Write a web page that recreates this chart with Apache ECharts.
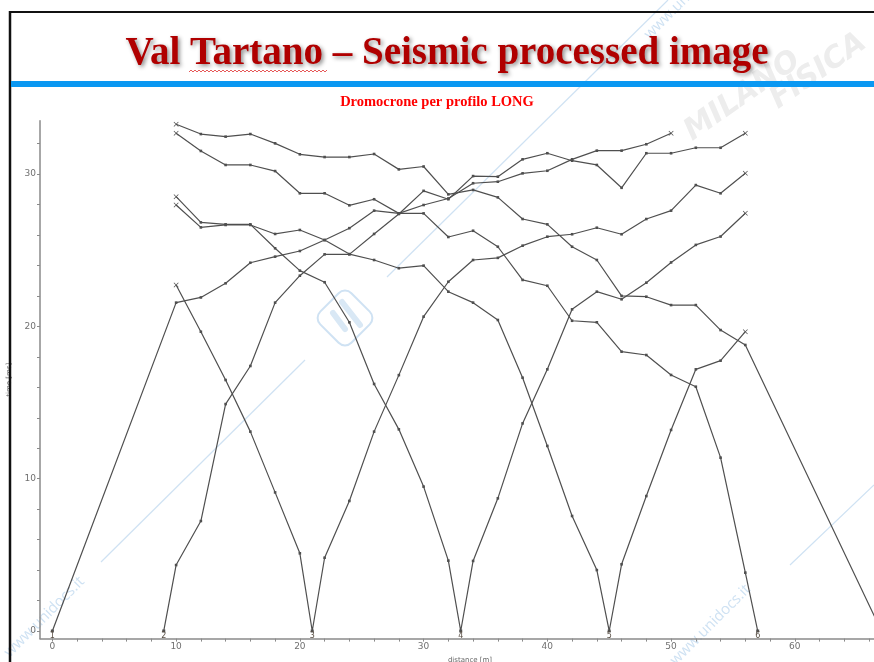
<!DOCTYPE html>
<html>
<head>
<meta charset="utf-8">
<script src="https://cdn.jsdelivr.net/npm/echarts@6/dist/echarts.min.js"></script>
<style>
  html, body { margin: 0; padding: 0; background: #ffffff; }
  #chart { width: 874px; height: 662px; }
</style>
</head>
<body>
<div id="chart"></div>
<script>
// Geophone spread (m) and shot positions (m) of the LONG profile
const geophones = [10, 12, 14, 16, 18, 20, 22, 24, 26, 28, 30, 32, 34, 36, 38, 40, 42, 44, 46, 48, 50, 52, 54, 56];
const shotPositions = [0, 9, 21, 33, 45, 57, 67];
const shotNames = ['1', '2', '3', '4', '5', '6', '7'];

// First-break picks (ms) for every shot, one value per geophone (null = not picked)
const times1 = [21.56, 21.9, 22.83, 24.18, 24.58, 24.95, 25.67, 26.45, 27.6, 27.42, 27.97, 28.4, 29.4, 29.5, 30.05, 30.22, 30.97, 31.54, 31.54, 31.96, 32.68, null, null, null];
const times2 = [4.33, 7.22, 14.9, 17.4, 21.56, 23.33, 24.73, 24.73, 26.07, 27.38, 28.9, 28.35, 29.87, 29.83, 30.97, 31.37, 30.88, 30.6, 29.1, 31.37, 31.37, 31.73, 31.73, 32.68];
const times3 = [22.72, 19.65, 16.48, 13.09, 9.1, 5.1, 4.81, 8.54, 13.09, 16.8, 20.64, 22.93, 24.36, 24.5, 25.3, 25.89, 26.05, 26.48, 26.05, 27.05, 27.6, 29.28, 28.74, 30.05];
const times4 = [28.52, 26.83, 26.7, 26.7, 25.13, 23.66, 22.9, 20.27, 16.22, 13.24, 9.48, 4.62, 4.6, 8.71, 13.63, 17.18, 21.12, 22.28, 21.78, 22.87, 24.2, 25.35, 25.9, 27.43];
const times5 = [27.97, 26.5, 26.66, 26.66, 26.07, 26.33, 25.67, 24.75, 24.36, 23.82, 23.99, 22.28, 21.56, 20.42, 16.63, 12.15, 7.55, 4.0, 4.38, 8.86, 13.2, 17.18, 17.75, 19.65];
const times6 = [32.68, 31.52, 30.6, 30.6, 30.2, 28.74, 28.74, 27.95, 28.35, 27.42, 27.42, 25.87, 26.28, 25.23, 23.05, 22.67, 20.37, 20.27, 18.34, 18.12, 16.81, 16.04, 11.38, 3.83];
const times7 = [33.27, 32.63, 32.46, 32.63, 32.02, 31.3, 31.12, 31.12, 31.32, 30.31, 30.5, 28.67, 28.96, 28.47, 27.05, 26.7, 25.23, 24.36, 22.0, 21.95, 21.4, 21.4, 19.76, 18.78];
const shotTimes = [times1, times2, times3, times4, times5, times6, times7];

// Axis ticks and labels
const xTickValues = [0, 2, 4, 6, 8, 10, 12, 14, 16, 18, 20, 22, 24, 26, 28, 30, 32, 34, 36, 38, 40, 42, 44, 46, 48, 50, 52, 54, 56, 58, 60, 62, 64, 66, 68];
const xLabelValues = [0, 10, 20, 30, 40, 50, 60];
const yTickValues = [0, 2, 4, 6, 8, 10, 12, 14, 16, 18, 20, 22, 24, 26, 28, 30, 32];
const yLabelValues = [0, 10, 20, 30];

const LINE = '#4f4f4f';
const AXIS = '#8a8a8a';
const CROSS = 'path://M1,0L5,4L9,0L10,1L6,5L10,9L9,10L5,6L1,10L0,9L4,5L0,1Z';

function buildShotSeries(i) {
  const times = shotTimes[i];
  const pts = [];
  geophones.forEach(function (g, k) {
    if (times[k] !== null) pts.push({ x: g, t: times[k], shot: false });
  });
  pts.push({ x: shotPositions[i], t: 0, shot: true });
  pts.sort(function (a, b) { return a.x - b.x; });
  const last = pts.length - 1;
  const data = pts.map(function (p, k) {
    const item = { value: [p.x, p.t] };
    if (p.shot) {
      item.symbol = 'rect';
      item.symbolSize = 3;
      item.label = {
        show: true, formatter: shotNames[i], position: 'bottom', distance: -1,
        fontSize: 8, color: '#5a5046', fontFamily: 'DejaVu Sans'
      };
    } else if (k === 0 || k === last) {
      item.symbol = CROSS;
      item.symbolSize = 5;
    } else {
      item.symbol = 'rect';
      item.symbolSize = 2.6;
    }
    return item;
  });
  return {
    type: 'line',
    name: 'Shot ' + shotNames[i],
    data: data,
    showAllSymbol: true,
    clip: false,
    lineStyle: { color: LINE, width: 1.2 },
    itemStyle: { color: LINE },
    emphasis: { disabled: true },
    silent: true,
    animation: false,
    z: 3
  };
}

const series = shotPositions.map(function (_, i) { return buildShotSeries(i); });

// Squiggly proof-reading underline under the place name
const squiggle = [];
for (let px = 189, n = 0; px <= 327; px += 2, n++) squiggle.push([px, n % 2 ? 70 : 72]);

const WM = '#cfe2f3';
const WM_GREY = '#ededed';
const TILT = 35 * Math.PI / 180;

const chart = echarts.init(document.getElementById('chart'), null, { renderer: 'canvas' });
chart.setOption({
  backgroundColor: '#ffffff',
  animation: false,
  grid: { left: 40, width: 860, top: 120.8, height: 517.8, containLabel: false, outerBoundsMode: 'none' },
  xAxis: {
    type: 'value', min: -1, max: 68.5,
    name: 'distance [m]', nameLocation: 'middle', nameGap: 14,
    nameTextStyle: { fontSize: 7, color: '#666', fontFamily: 'DejaVu Sans' },
    axisLine: { onZero: false, lineStyle: { color: AXIS, width: 1.5 } },
    axisTick: { show: true, customValues: xTickValues, length: 3, lineStyle: { color: AXIS, width: 1 } },
    axisLabel: { customValues: xLabelValues, fontSize: 9, color: '#707070', margin: 4, fontFamily: 'DejaVu Sans' },
    splitLine: { show: false }
  },
  yAxis: {
    type: 'value', min: -0.5, max: 33.5,
    name: 'time [ms]', nameLocation: 'middle', nameGap: 27, nameRotate: 90,
    nameTextStyle: { fontSize: 7, color: '#666', fontFamily: 'DejaVu Sans' },
    axisLine: { onZero: false, lineStyle: { color: AXIS, width: 1.5 } },
    axisTick: { show: true, customValues: yTickValues, length: 3, lineStyle: { color: AXIS, width: 1 } },
    axisLabel: { customValues: yLabelValues, fontSize: 9, color: '#707070', margin: 4, fontFamily: 'DejaVu Sans' },
    splitLine: { show: false }
  },
  graphic: [
    // faint grey background lettering, top right
    { type: 'text', silent: true, z: 0, x: 806, y: 70, rotation: TILT,
      style: { text: 'MILANO', fill: WM_GREY, font: 'italic bold 30px "DejaVu Sans"', textAlign: 'right', textVerticalAlign: 'bottom' } },
    { type: 'text', silent: true, z: 0, x: 872, y: 52, rotation: TILT,
      style: { text: 'FISICA', fill: WM_GREY, font: 'italic bold 30px "DejaVu Sans"', textAlign: 'right', textVerticalAlign: 'bottom' } },
    // faint diagonal watermark strokes
    { type: 'line', silent: true, z: 0, shape: { x1: 101, y1: 562, x2: 305, y2: 360 }, style: { stroke: WM, lineWidth: 1.2 } },
    { type: 'line', silent: true, z: 0, shape: { x1: 387, y1: 277, x2: 668, y2: 0 }, style: { stroke: WM, lineWidth: 1.2 } },
    { type: 'line', silent: true, z: 0, shape: { x1: 790, y1: 565, x2: 874, y2: 485 }, style: { stroke: WM, lineWidth: 1.2 } },
    { type: 'text', silent: true, z: 0, x: 12, y: 660, rotation: Math.PI / 4,
      style: { text: 'www.unidocs.it', fill: WM, font: '15px "Open Sans"', textAlign: 'left', textVerticalAlign: 'bottom' } },
    { type: 'text', silent: true, z: 0, x: 678, y: 668, rotation: Math.PI / 4,
      style: { text: 'www.unidocs.it', fill: WM, font: '15px "Open Sans"', textAlign: 'left', textVerticalAlign: 'bottom' } },
    { type: 'text', silent: true, z: 0, x: 652, y: 42, rotation: Math.PI / 4,
      style: { text: 'www.unidocs.it', fill: WM, font: '15px "Open Sans"', textAlign: 'left', textVerticalAlign: 'bottom' } },
    // logo mark
    { type: 'rect', silent: true, z: 0, x: 345, y: 318, rotation: Math.PI / 4,
      shape: { x: -22, y: -22, width: 44, height: 44, r: 9 }, style: { fill: 'none', stroke: WM, lineWidth: 2 } },
    { type: 'line', silent: true, z: 0, shape: { x1: 333, y1: 313, x2: 345, y2: 329 }, style: { stroke: '#d9e8f5', lineWidth: 6, lineCap: 'round' } },
    { type: 'line', silent: true, z: 0, shape: { x1: 342, y1: 302, x2: 360, y2: 325 }, style: { stroke: '#d9e8f5', lineWidth: 6, lineCap: 'round' } },
    // slide frame
    { type: 'line', silent: true, z: 10, shape: { x1: 9, y1: 12, x2: 874, y2: 12 }, style: { stroke: '#111', lineWidth: 2 } },
    { type: 'line', silent: true, z: 10, shape: { x1: 10, y1: 11, x2: 10, y2: 662 }, style: { stroke: '#111', lineWidth: 2.5 } },
    // blue rule under the heading
    { type: 'rect', silent: true, z: 10, shape: { x: 11, y: 81, width: 863, height: 6 }, style: { fill: '#0a98f2' } },
    // heading
    { type: 'text', silent: true, z: 10, x: 447, y: 54,
      style: {
        text: 'Val Tartano – Seismic processed image', fill: '#b00000',
        font: 'bold 39px "Liberation Serif"', textAlign: 'center', textVerticalAlign: 'middle',
        textShadowColor: 'rgba(0,0,0,0.45)', textShadowBlur: 4, textShadowOffsetX: 2, textShadowOffsetY: 2
      } },
    { type: 'polyline', silent: true, z: 11, shape: { points: squiggle }, style: { stroke: '#e03030', lineWidth: 0.8, fill: 'none' } },
    // chart caption
    { type: 'text', silent: true, z: 10, x: 437, y: 102,
      style: { text: 'Dromocrone per profilo LONG', fill: '#ff0000', font: 'bold 14.5px "Liberation Serif"', textAlign: 'center', textVerticalAlign: 'middle' } }
  ],
  series: series
});
</script>
</body>
</html>
